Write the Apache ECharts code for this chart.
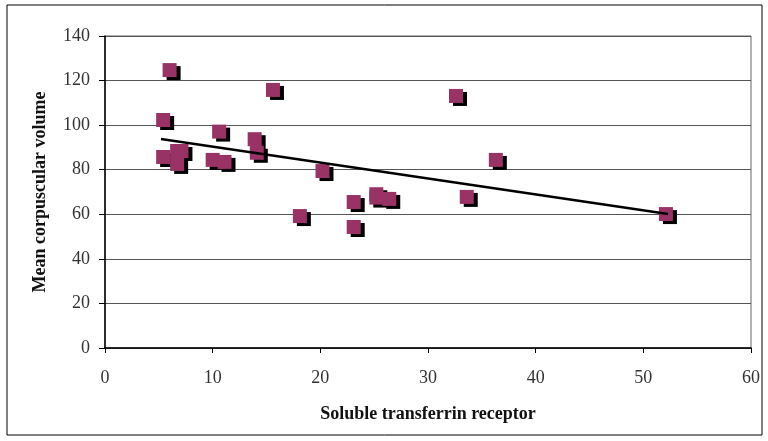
<!DOCTYPE html>
<html>
<head>
<meta charset="utf-8">
<script src="https://cdn.jsdelivr.net/npm/echarts@6/dist/echarts.min.js"></script>
<style>
html, body { margin: 0; padding: 0; background: #fff; }
#chart { width: 768px; height: 441px; }
</style>
</head>
<body>
<div id="chart"></div>
<script>
// soluble transferrin receptor (x) vs mean corpuscular volume (y)
var stfr = [6.0, 15.6, 32.6, 5.4, 10.6, 13.9, 14.1, 5.4, 6.7, 7.1, 6.7, 10.0, 11.1, 20.2, 36.3, 18.1, 23.1, 23.1, 25.2, 25.2, 26.4, 33.6, 52.1];
var mcv  = [124.7, 115.8, 113.1, 102.3, 97.1, 93.7, 87.6, 85.7, 88.4, 88.4, 82.6, 84.4, 83.5, 79.4, 84.4, 59.2, 65.5, 54.3, 69.0, 67.5, 66.9, 67.8, 60.1];
// trend line end points
var trendX = [5.2, 52.3];
var trendY = [93.8, 60.1];
var xTicks = [0, 10, 20, 30, 40, 50, 60];
var yTicks = [0, 20, 40, 60, 80, 100, 120, 140];

var points = stfr.map(function (x, i) { return [x, mcv[i]]; });
var trend = trendX.map(function (x, i) { return [x, trendY[i]]; });

var serif = '"Liberation Serif", "DejaVu Serif", serif';

var myChart = echarts.init(document.getElementById('chart'));

var option = {
    animation: false,
    backgroundColor: '#fff',
    graphic: [{
        type: 'rect',
        shape: { x: 7, y: 5, width: 755, height: 430 },
        style: { fill: 'none', stroke: '#000', lineWidth: 1 },
        z: 0
    }],
    grid: {
        left: 105,
        right: 17,
        top: 36,
        bottom: 93,
        show: true,
        borderColor: '#666',
        borderWidth: 1
    },
    xAxis: {
        type: 'value',
        min: 0,
        max: 60,
        interval: 10,
        name: 'Soluble transferrin receptor',
        nameLocation: 'middle',
        nameGap: 57,
        nameTextStyle: { fontFamily: serif, fontSize: 18, fontWeight: 'bold', color: '#111' },
        axisLine: { lineStyle: { color: '#000', width: 1.5 } },
        axisTick: { show: true, length: 5, lineStyle: { color: '#000' } },
        axisLabel: {
            margin: 21,
            fontFamily: serif,
            fontSize: 18,
            color: '#333',
            formatter: function (v) { return xTicks.indexOf(v) >= 0 ? String(v) : ''; }
        },
        splitLine: { show: false }
    },
    yAxis: {
        type: 'value',
        min: 0,
        max: 140,
        interval: 20,
        name: 'Mean corpuscular volume',
        nameLocation: 'middle',
        nameGap: 56,
        nameRotate: 90,
        nameTextStyle: { fontFamily: serif, fontSize: 18, fontWeight: 'bold', color: '#111' },
        axisLine: { show: true, lineStyle: { color: '#000', width: 1.5 } },
        axisTick: { show: true, length: 6, lineStyle: { color: '#000' } },
        axisLabel: {
            margin: 15,
            fontFamily: serif,
            fontSize: 18,
            color: '#333',
            formatter: function (v) { return yTicks.indexOf(v) >= 0 ? String(v) : ''; }
        },
        splitLine: { show: true, lineStyle: { color: '#555', width: 1 } }
    },
    series: [
        {
            name: 'trend',
            type: 'line',
            data: trend,
            symbol: 'none',
            lineStyle: { color: '#000', width: 2.5 },
            z: 3
        },
        {
            name: 'MCV',
            type: 'scatter',
            data: points,
            symbol: 'rect',
            symbolSize: 14,
            itemStyle: {
                color: '#993366',
                opacity: 1,
                shadowColor: '#000',
                shadowBlur: 0,
                shadowOffsetX: 4,
                shadowOffsetY: 3
            },
            z: 2
        }
    ]
};

myChart.setOption(option);
</script>
</body>
</html>
